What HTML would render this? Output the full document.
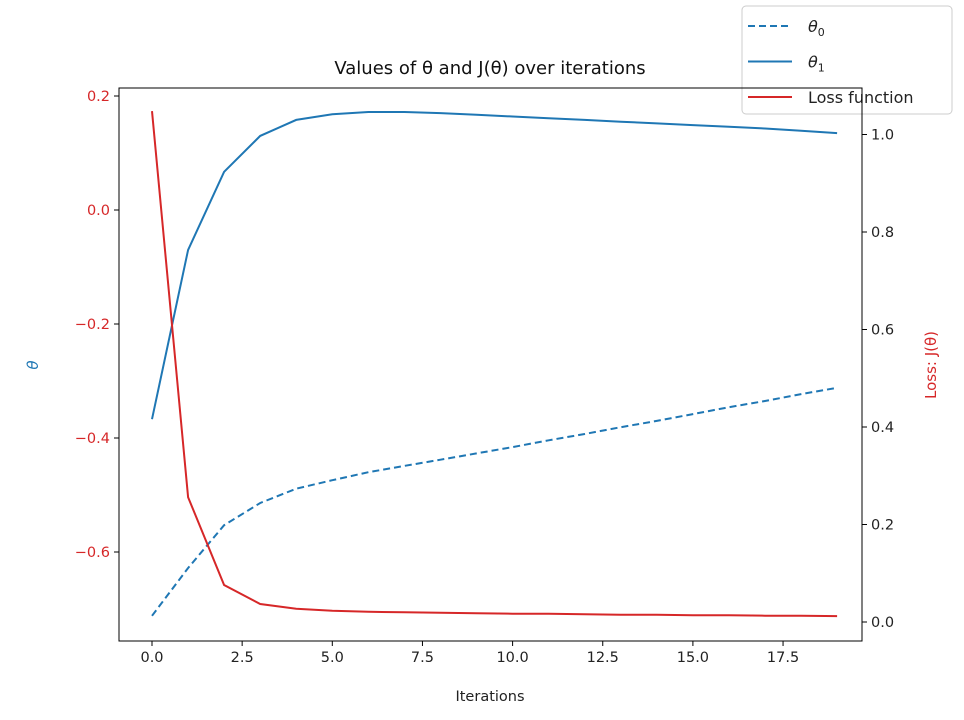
<!DOCTYPE html>
<html><head><meta charset="utf-8"><style>
body{margin:0;background:#fff;}
svg text{font-family:"DejaVu Sans","Liberation Sans",sans-serif;}
</style></head><body>
<svg id="c" width="964" height="715" xmlns="http://www.w3.org/2000/svg"></svg>
<script>
const iterations=[0,1,2,3,4,5,6,7,8,9,10,11,12,13,14,15,16,17,18,19];
const theta0=[-0.712,-0.628,-0.553,-0.514,-0.489,-0.474,-0.460,-0.449,-0.438,-0.427,-0.416,-0.404,-0.393,-0.381,-0.370,-0.358,-0.346,-0.335,-0.323,-0.312];
const theta1=[-0.367,-0.070,0.067,0.130,0.158,0.168,0.172,0.172,0.170,0.167,0.164,0.161,0.158,0.155,0.152,0.149,0.146,0.143,0.139,0.135];
const loss=[1.048,0.256,0.076,0.037,0.027,0.023,0.021,0.020,0.019,0.018,0.017,0.017,0.016,0.015,0.015,0.014,0.014,0.013,0.013,0.012];
const xTicks=[0,2.5,5,7.5,10,12.5,15,17.5];
const yLTicks=[-0.6,-0.4,-0.2,0.0,0.2];
const yRTicks=[0,0.2,0.4,0.6,0.8,1.0];
const L=119,R=862,T=88,B=641;
const xs=v=>152+v*36.06;
const yl=v=>210-v*570;
const yr=v=>622-v*487.5;
const svg=document.getElementById('c');
const NS='http://www.w3.org/2000/svg';
function mk(tag,attrs,txt){const e=document.createElementNS(NS,tag);for(const k in attrs)e.setAttribute(k,attrs[k]);if(txt!==undefined)e.textContent=txt;svg.appendChild(e);return e;}
function poly(xv,yv,fx,fy,color,dash,name){
 const p=xv.map((x,i)=>fx(x).toFixed(1)+','+fy(yv[i]).toFixed(1)).join(' ');
 const e=mk('polyline',{points:p,fill:'none',stroke:color,'stroke-width':2,'stroke-dasharray':dash||'none'});
 
 
}
const lg=mk('rect',{x:742,y:6,width:210,height:108,rx:4,fill:'#fff',stroke:'#ccc'});

[['#1f77b4','7,4','0'],['#1f77b4','','1'],['#d62728','','']].forEach((e,i)=>{
 const y=26+i*35.5;
 mk('line',{x1:748,x2:792,y1:y,y2:y,stroke:e[0],'stroke-width':2,'stroke-dasharray':e[1]||'none'});
 let tt;
 if(e[2]!==''){
  tt=mk('text',{x:808,y:y+6,'font-size':16,fill:'#222'});
  const a=document.createElementNS(NS,'tspan');a.setAttribute('font-style','italic');a.textContent='θ';tt.appendChild(a);
  const b=document.createElementNS(NS,'tspan');b.setAttribute('font-size','11');b.setAttribute('dy','4');b.textContent=e[2];tt.appendChild(b);
 } else tt=mk('text',{x:808,y:y+6,'font-size':16,fill:'#222'},'Loss function');
 
 
});
poly(iterations,theta0,xs,yl,'#1f77b4','7,4','theta0-line');
poly(iterations,theta1,xs,yl,'#1f77b4','','theta1-line');
poly(iterations,loss,xs,yr,'#d62728','','loss-line');
const fr=mk('rect',{x:L,y:T,width:R-L,height:B-T,fill:'none',stroke:'#000','stroke-width':1});


xTicks.forEach(v=>{const x=xs(v);mk('line',{x1:x,x2:x,y1:B,y2:B+5,stroke:'#000'});
 const t=mk('text',{x:x,y:B+21,'text-anchor':'middle','font-size':14.5,fill:'#222'},v.toFixed(1));
 
 });
yLTicks.forEach(v=>{const y=yl(v);mk('line',{x1:L-5,x2:L,y1:y,y2:y,stroke:'#000'});
 const t=mk('text',{x:L-9,y:y+5,'text-anchor':'end','font-size':14.5,fill:'#d62728'},(v<0?'\u2212':'')+Math.abs(v).toFixed(1));
 
 });
yRTicks.forEach(v=>{const y=yr(v);mk('line',{x1:R,x2:R+5,y1:y,y2:y,stroke:'#000'});
 const t=mk('text',{x:R+9,y:y+5,'text-anchor':'start','font-size':14.5,fill:'#222'},v.toFixed(1));
 
 });
let t=mk('text',{x:490,y:701,'text-anchor':'middle','font-size':14.5,fill:'#222'},'Iterations');

t=mk('text',{x:38,y:365,'text-anchor':'middle','font-size':15,fill:'#1f77b4','font-style':'italic',transform:'rotate(-90 38 365)'},'θ');

t=mk('text',{x:936,y:365,'text-anchor':'middle','font-size':15,fill:'#d62728',transform:'rotate(-90 936 365)'},'Loss: J(θ)');

t=mk('text',{x:490,y:74,'text-anchor':'middle','font-size':18,fill:'#111'},'Values of θ and J(θ) over iterations');

</script>
</body></html>
